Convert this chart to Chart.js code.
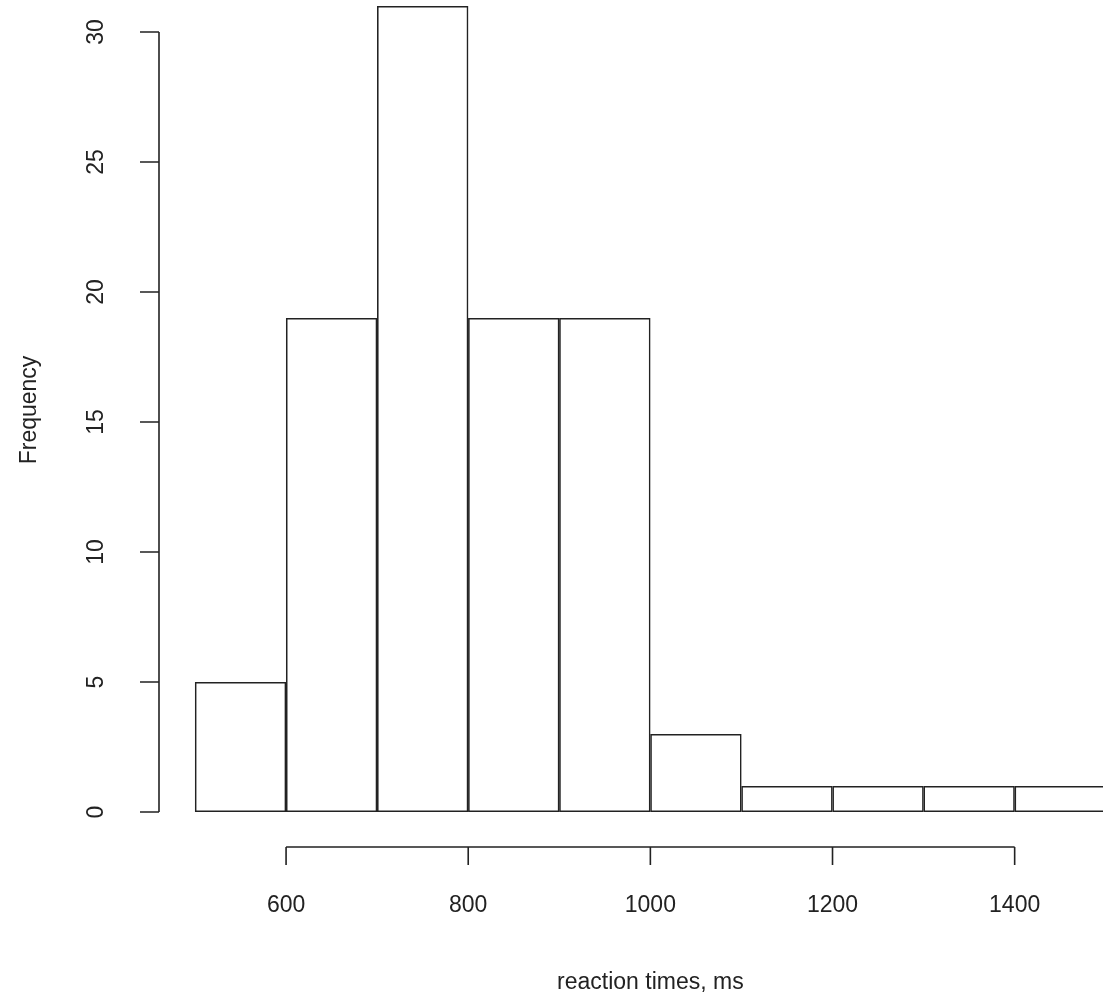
<!DOCTYPE html>
<html>
<head>
<meta charset="utf-8">
<script src="https://cdn.jsdelivr.net/npm/chart.js@4"></script>
<style>
  html, body { margin: 0; padding: 0; background: #fff; }
  #wrap { width: 1103px; height: 1002px; }
</style>
</head>
<body>
<div id="wrap"><canvas id="myChart"></canvas></div>
<script>
// histogram of reaction times, bins of 100 ms
const binStarts = [500, 600, 700, 800, 900, 1000, 1100, 1200, 1300, 1400];
const counts = [5, 19, 31, 19, 19, 3, 1, 1, 1, 1];
const yTicks = [0, 5, 10, 15, 20, 25, 30];
const xTicks = [600, 800, 1000, 1200, 1400];

const font = '23px "Liberation Sans", Arial, sans-serif';
const ink = '#222';

// draws R-style detached axes using the chart's own scales
const rAxes = {
  id: 'rAxes',
  afterDraw(chart) {
    const c = chart.ctx, x = chart.scales.x, y = chart.scales.y;
    c.save();
    c.strokeStyle = ink;
    c.fillStyle = ink;
    c.lineWidth = 1.6;
    c.font = font;

    // y axis
    const ax = 159;
    c.beginPath();
    c.moveTo(ax, y.getPixelForValue(0));
    c.lineTo(ax, y.getPixelForValue(30));
    yTicks.forEach(v => {
      const py = y.getPixelForValue(v);
      c.moveTo(ax, py);
      c.lineTo(ax - 19, py);
    });
    c.stroke();
    c.textAlign = 'center';
    c.textBaseline = 'middle';
    yTicks.forEach(v => {
      c.save();
      c.translate(97, y.getPixelForValue(v));
      c.rotate(-Math.PI / 2);
      c.fillText(String(v), 0, 0);
      c.restore();
    });

    // x axis
    const ay = 847;
    c.beginPath();
    c.moveTo(x.getPixelForValue(600), ay);
    c.lineTo(x.getPixelForValue(1400), ay);
    xTicks.forEach(v => {
      const px = x.getPixelForValue(v);
      c.moveTo(px, ay);
      c.lineTo(px, ay + 18);
    });
    c.stroke();
    xTicks.forEach(v => c.fillText(String(v), x.getPixelForValue(v), 906));

    // titles
    c.fillText('reaction times, ms', x.getPixelForValue(1000), 983);
    c.save();
    c.translate(30, 410);
    c.rotate(-Math.PI / 2);
    c.fillText('Frequency', 0, 0);
    c.restore();
    c.restore();
  }
};

const ctx = document.getElementById('myChart').getContext('2d');
const myChart = new Chart(ctx, {
  type: 'bar',
  data: {
    datasets: [{
      data: binStarts.map((b, i) => ({ x: b + 50, y: counts[i] })),
      backgroundColor: 'rgba(255,255,255,0)',
      borderColor: ink,
      borderWidth: 1.6,
      borderSkipped: false,
      barPercentage: 1.035,
      categoryPercentage: 1,
      clip: false
    }]
  },
  options: {
    responsive: true,
    maintainAspectRatio: false,
    animation: false,
    layout: { padding: { left: 195, right: 0, top: 6, bottom: 190 } },
    plugins: { legend: { display: false }, tooltip: { enabled: false } },
    scales: {
      x: { type: 'linear', offset: false, min: 500, max: 1497, display: false },
      y: { min: 0, max: 31, display: false }
    }
  },
  plugins: [rAxes]
});
</script>
</body>
</html>
